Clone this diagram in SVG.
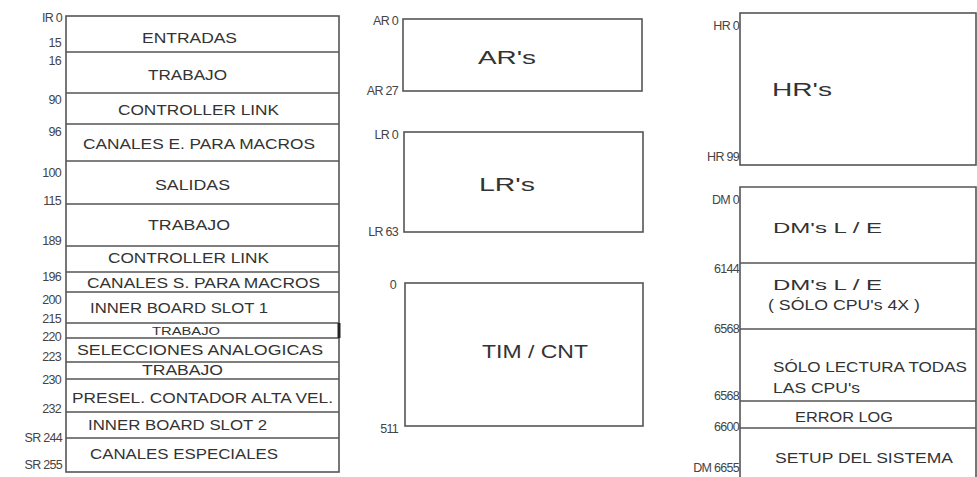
<svg xmlns="http://www.w3.org/2000/svg" width="977" height="477" viewBox="0 0 977 477">
<style>
  .box{fill:#fff;stroke:#555;stroke-width:1.6}
  .ln{stroke:#555;stroke-width:1.6;fill:none}
  .t{font-family:"Liberation Sans",Arial,sans-serif;font-size:14px;fill:#333}
  .big{font-family:"Liberation Sans",Arial,sans-serif;font-size:18px;fill:#333}
  .sm{font-family:"Liberation Sans",Arial,sans-serif;font-size:10px;fill:#333}
  .lb{font-family:"Liberation Sans",Arial,sans-serif;font-size:12.5px;fill:#444;text-anchor:end;letter-spacing:-0.7px}
</style>
<rect width="977" height="477" fill="#fff"/>

<g id="ir-area">
  <rect class="box" x="66" y="16" width="273" height="456"/>
  <path class="ln" d="M66,52H339M66,93H339M66,124H339M66,161H339M66,204H339M66,246H339M66,272H339M66,292H339M66,323H339M66,338H339M66,362H339M66,379H339M66,412H339M66,438H339"/>
  <line x1="339" y1="323" x2="339" y2="338" stroke="#222" stroke-width="3"/>
  <g id="row-entradas"><text class="t" x="142" y="43" textLength="95" lengthAdjust="spacingAndGlyphs">ENTRADAS</text></g>
  <g id="row-trabajo1"><text class="t" x="148" y="80" textLength="79" lengthAdjust="spacingAndGlyphs">TRABAJO</text></g>
  <g id="row-clink1"><text class="t" x="118" y="115" textLength="161" lengthAdjust="spacingAndGlyphs">CONTROLLER LINK</text></g>
  <g id="row-canales-e"><text class="t" x="83" y="149" textLength="232" lengthAdjust="spacingAndGlyphs">CANALES E. PARA MACROS</text></g>
  <g id="row-salidas"><text class="t" x="155" y="190" textLength="75" lengthAdjust="spacingAndGlyphs">SALIDAS</text></g>
  <g id="row-trabajo2"><text class="t" x="148" y="230" textLength="82" lengthAdjust="spacingAndGlyphs">TRABAJO</text></g>
  <g id="row-clink2"><text class="t" x="108" y="263" textLength="161" lengthAdjust="spacingAndGlyphs">CONTROLLER LINK</text></g>
  <g id="row-canales-s"><text class="t" x="87" y="288" textLength="233" lengthAdjust="spacingAndGlyphs">CANALES S. PARA MACROS</text></g>
  <g id="row-slot1"><text class="t" x="90" y="313" textLength="178" lengthAdjust="spacingAndGlyphs">INNER BOARD SLOT 1</text></g>
  <g id="row-trabajo3"><text class="sm" x="152" y="335" textLength="68" lengthAdjust="spacingAndGlyphs">TRABAJO</text></g>
  <g id="row-selecciones"><text class="t" x="77" y="355" textLength="246" lengthAdjust="spacingAndGlyphs">SELECCIONES  ANALOGICAS</text></g>
  <g id="row-trabajo4"><text class="t" x="142" y="375" textLength="81" lengthAdjust="spacingAndGlyphs">TRABAJO</text></g>
  <g id="row-presel"><text class="t" x="72" y="403" textLength="261" lengthAdjust="spacingAndGlyphs">PRESEL. CONTADOR ALTA VEL.</text></g>
  <g id="row-slot2"><text class="t" x="88" y="430" textLength="179" lengthAdjust="spacingAndGlyphs">INNER BOARD SLOT 2</text></g>
  <g id="row-especiales"><text class="t" x="90" y="459" textLength="188" lengthAdjust="spacingAndGlyphs">CANALES ESPECIALES</text></g>
  <g id="ir-labels">
    <text class="lb" x="62" y="22">IR 0</text>
    <text class="lb" x="61" y="47">15</text>
    <text class="lb" x="61" y="65">16</text>
    <text class="lb" x="61" y="104">90</text>
    <text class="lb" x="61" y="136">96</text>
    <text class="lb" x="61" y="177">100</text>
    <text class="lb" x="61" y="205">115</text>
    <text class="lb" x="61" y="245">189</text>
    <text class="lb" x="61" y="281">196</text>
    <text class="lb" x="61" y="304">200</text>
    <text class="lb" x="61" y="323">215</text>
    <text class="lb" x="61" y="341">220</text>
    <text class="lb" x="61" y="361">223</text>
    <text class="lb" x="61" y="384">230</text>
    <text class="lb" x="61" y="413">232</text>
    <text class="lb" x="62" y="442">SR 244</text>
    <text class="lb" x="62" y="469">SR 255</text>
  </g>
</g>

<g id="ar-area">
  <rect class="box" x="403" y="19" width="239" height="72"/>
  <text class="big" x="478" y="64" textLength="58" lengthAdjust="spacingAndGlyphs">AR's</text>
  <text class="lb" x="398" y="25">AR 0</text>
  <text class="lb" x="398" y="95">AR 27</text>
</g>

<g id="lr-area">
  <rect class="box" x="404" y="132" width="239" height="100"/>
  <text class="big" x="479" y="191" textLength="56" lengthAdjust="spacingAndGlyphs">LR's</text>
  <text class="lb" x="398" y="139">LR 0</text>
  <text class="lb" x="398" y="236">LR 63</text>
</g>

<g id="tim-area">
  <rect class="box" x="405" y="283" width="238" height="143"/>
  <text class="big" x="482" y="358" textLength="106" lengthAdjust="spacingAndGlyphs">TIM / CNT</text>
  <text class="lb" x="396" y="289">0</text>
  <text class="lb" x="398" y="433">511</text>
</g>

<g id="hr-area">
  <rect class="box" x="740" y="13" width="236" height="152"/>
  <text class="big" x="772" y="96" textLength="60" lengthAdjust="spacingAndGlyphs">HR's</text>
  <text class="lb" x="739" y="30">HR 0</text>
  <text class="lb" x="739" y="161">HR 99</text>
</g>

<g id="dm-area">
  <path class="ln" d="M740,477V187H976V477M740,263H976M740,329H976M740,401H976M740,428H976"/>
  <g id="dm-le"><text class="t" x="773" y="233" textLength="109" lengthAdjust="spacingAndGlyphs">DM's  L / E</text></g>
  <g id="dm-4x">
    <text class="t" x="773" y="290" textLength="109" lengthAdjust="spacingAndGlyphs">DM's  L / E</text>
    <text class="t" x="768" y="310" textLength="152" lengthAdjust="spacingAndGlyphs">( SÓLO CPU's 4X )</text>
  </g>
  <g id="dm-ro">
    <text class="t" x="773" y="372" textLength="194" lengthAdjust="spacingAndGlyphs">SÓLO LECTURA TODAS</text>
    <text class="t" x="773" y="393" textLength="87" lengthAdjust="spacingAndGlyphs">LAS CPU's</text>
  </g>
  <g id="dm-error"><text class="t" x="795" y="422" textLength="98" lengthAdjust="spacingAndGlyphs">ERROR LOG</text></g>
  <g id="dm-setup"><text class="t" x="775" y="463" textLength="178" lengthAdjust="spacingAndGlyphs">SETUP DEL SISTEMA</text></g>
  <g id="dm-labels">
    <text class="lb" x="739" y="204">DM 0</text>
    <text class="lb" x="739" y="273">6144</text>
    <text class="lb" x="739" y="333">6568</text>
    <text class="lb" x="739" y="400">6568</text>
    <text class="lb" x="739" y="431">6600</text>
    <text class="lb" x="739" y="472">DM 6655</text>
  </g>
</g>
</svg>
